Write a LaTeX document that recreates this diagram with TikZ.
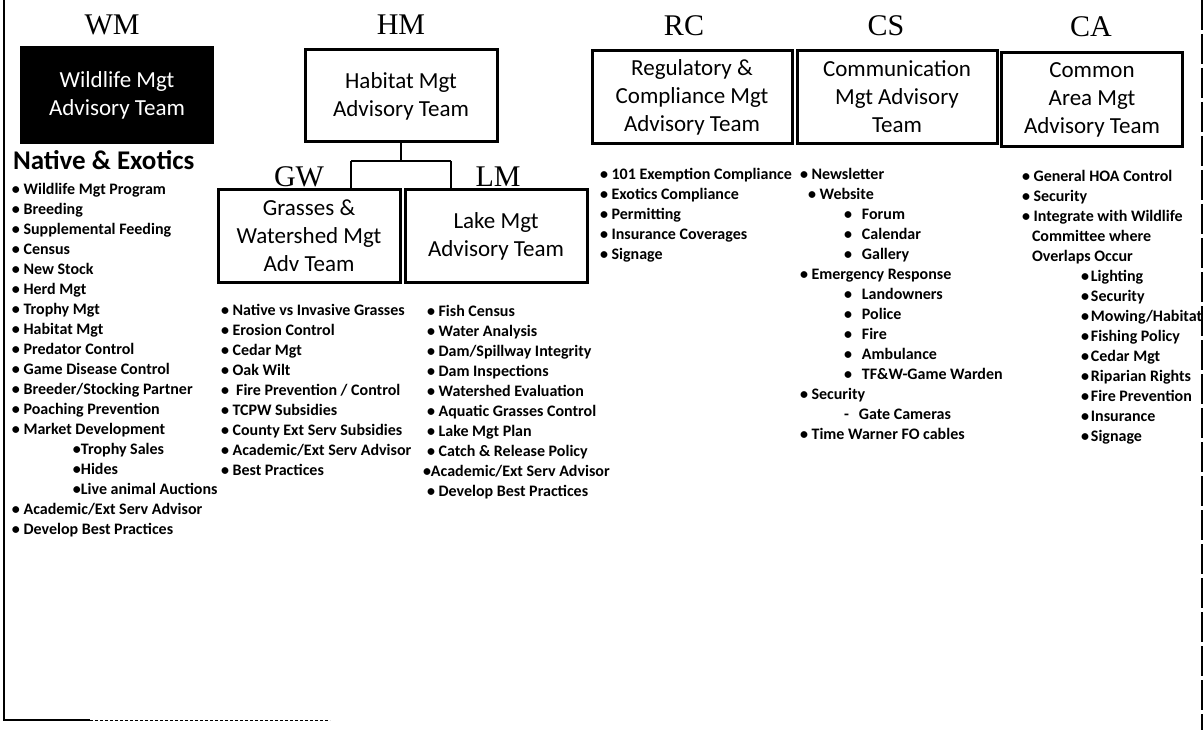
\documentclass[tikz,border=0pt]{standalone}
\usepackage{fontspec}
\setmainfont{Carlito}
\newfontfamily\codefont{Liberation Serif}

\begin{document}
\begin{tikzpicture}[x=1pt,y=-1pt,line width=2pt]

\tikzstyle{team} = [draw,line width=3pt,inner sep=0,align=center,font=\fontsize{23}{28}\selectfont];
\tikzstyle{code} = [anchor=base,inner sep=0,font=\codefont\fontsize{30}{32}\selectfont];
\tikzstyle{items} = [anchor=north west,inner sep=0,align=left,font=\bfseries\fontsize{16}{20}\selectfont];

\useasboundingbox (0,0) rectangle (1204,730);

% page edge of the scan
\draw[line width=1.2pt] (4,0) -- (4,720) -- (90,720);
\draw[line width=1pt,densely dashed] (90,720) -- (330,720);
\draw[line width=1.2pt,dash pattern=on 30pt off 4pt] (1202,0) -- (1202,730);

\node[code] (v8) at (112,35) {WM};
\node[code] (v9) at (401,35) {HM};
\node[code] (v10) at (684,36) {RC};
\node[code] (v11) at (886,36) {CS};
\node[code] (v12) at (1091,37) {CA};
\node[code] (v13) at (299,187) {GW};
\node[code] (v14) at (498,187) {LM};

\node[team,fill=black,text=white,minimum width=191,minimum height=95] (v1) at (117,95) {Wildlife Mgt\\Advisory Team};
\node[team,minimum width=192,minimum height=92] (v2) at (401,96) {Habitat Mgt\\Advisory Team};
\node[team,minimum width=200,minimum height=93] (v3) at (692,97) {Regulatory \&\\Compliance Mgt\\Advisory Team};
\node[team,minimum width=200,minimum height=93] (v4) at (897,97) {Communication\\Mgt Advisory\\Team};
\node[team,minimum width=181,minimum height=94] (v5) at (1092,100) {Common\\Area Mgt\\Advisory Team};
\node[team,minimum width=182,minimum height=93] (v6) at (309,236) {Grasses \&\\Watershed Mgt\\Adv Team};
\node[team,minimum width=182,minimum height=93] (v7) at (496,236) {Lake Mgt\\Advisory Team};

\coordinate (j1) at (351,161);
\coordinate (j2) at (451,161);
\draw (v2.south) -- (v2.south |- j1);
\draw (j1) -- (j2);
\draw (j1) -- (j1 |- v6.north);
\draw (j2) -- (j2 |- v7.north);

\node[anchor=base west,inner sep=0,font=\bfseries\fontsize{27}{30}\selectfont] (v15) at (12,170) {Native \& Exotics};

\node[items] (v16) at (11,179) {\strut• Wildlife Mgt Program\\• Breeding\\• Supplemental Feeding\\• Census\\• New Stock\\• Herd Mgt\\• Trophy Mgt\\• Habitat Mgt\\• Predator Control\\• Game Disease Control\\• Breeder/Stocking Partner\\• Poaching Prevention\\• Market Development\\\hspace*{61pt}•Trophy Sales\\\hspace*{61pt}•Hides\\\hspace*{61pt}•Live animal Auctions\\• Academic/Ext Serv Advisor\\• Develop Best Practices};

\node[items] (v17) at (220,300) {\strut• Native vs Invasive Grasses\\• Erosion Control\\• Cedar Mgt\\• Oak Wilt\\• \ Fire Prevention / Control\\• TCPW Subsidies\\• County Ext Serv Subsidies\\• Academic/Ext Serv Advisor\\• Best Practices};

\node[items] (v18) at (426,301) {\strut• Fish Census\\• Water Analysis\\• Dam/Spillway Integrity\\• Dam Inspections\\• Watershed Evaluation\\• Aquatic Grasses Control\\• Lake Mgt Plan\\• Catch \& Release Policy\\\hspace*{-4pt}•Academic/Ext Serv Advisor\\• Develop Best Practices};

\node[items] (v19) at (599,164) {\strut• 101 Exemption Compliance\\• Exotics Compliance\\• Permitting\\• Insurance Coverages\\• Signage};

\node[items] (v20) at (799,164) {\strut• Newsletter\\\hspace*{8pt}• Website\\\hspace*{44pt}•\hspace*{10pt}Forum\\\hspace*{44pt}•\hspace*{10pt}Calendar\\\hspace*{44pt}•\hspace*{10pt}Gallery\\• Emergency Response\\\hspace*{44pt}•\hspace*{10pt}Landowners\\\hspace*{44pt}•\hspace*{10pt}Police\\\hspace*{44pt}•\hspace*{10pt}Fire\\\hspace*{44pt}•\hspace*{10pt}Ambulance\\\hspace*{44pt}•\hspace*{10pt}TF\&W-Game Warden\\• Security\\\hspace*{44pt}-\hspace*{10pt}Gate Cameras\\• Time Warner FO cables};

\node[items] (v21) at (1021,166) {\strut• General HOA Control\\• Security\\• Integrate with Wildlife\\\hspace*{10pt}Committee where\\\hspace*{10pt}Overlaps Occur\\\hspace*{59pt}•\hspace{2pt}Lighting\\\hspace*{59pt}•\hspace{2pt}Security\\\hspace*{59pt}•\hspace{2pt}Mowing/Habitat\\\hspace*{59pt}•\hspace{2pt}Fishing Policy\\\hspace*{59pt}•\hspace{2pt}Cedar Mgt\\\hspace*{59pt}•\hspace{2pt}Riparian Rights\\\hspace*{59pt}•\hspace{2pt}Fire Prevention\\\hspace*{59pt}•\hspace{2pt}Insurance\\\hspace*{59pt}•\hspace{2pt}Signage};
\end{tikzpicture}
\end{document}
